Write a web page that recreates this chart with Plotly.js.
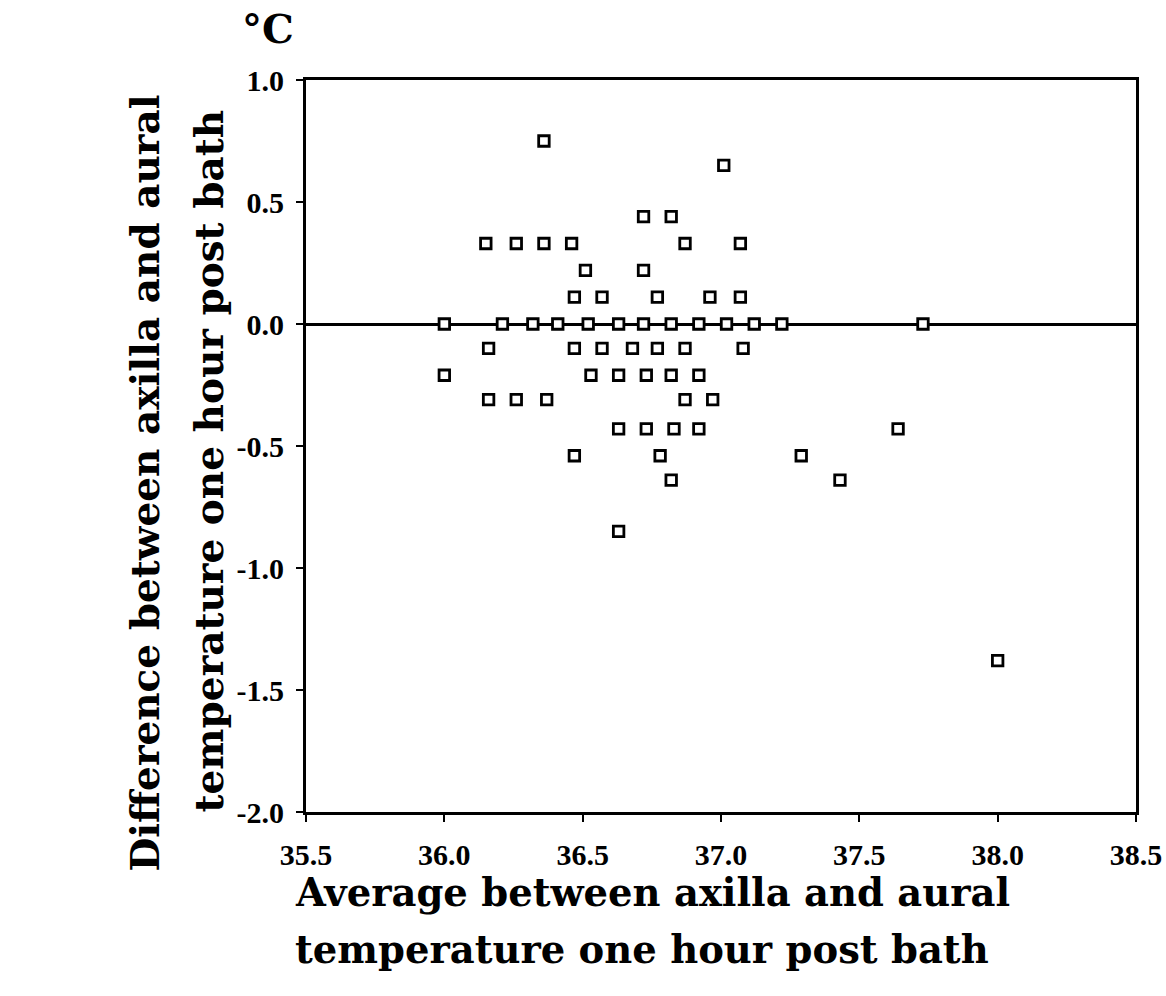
<!DOCTYPE html>
<html>
<head>
<meta charset="utf-8">
<script src="https://cdn.plot.ly/plotly-3.0.1.min.js"></script>
<style>html,body{margin:0;padding:0;background:#fff;}#chart{width:1166px;height:996px;}</style>
</head>
<body>
<div id="chart"></div>
<script>
// Average between axilla and aural temperature (°C)
const avgTemp = [
  36.36,
  37.01,
  36.72, 36.82,
  36.15, 36.26, 36.36, 36.46, 36.87, 37.07,
  36.51, 36.72,
  36.47, 36.57, 36.77, 36.96, 37.07,
  36.00, 36.21, 36.32, 36.41, 36.52, 36.63, 36.72, 36.82, 36.92, 37.02, 37.12, 37.22, 37.73,
  36.16, 36.47, 36.57, 36.68, 36.77, 36.87, 37.08,
  36.00, 36.53, 36.63, 36.73, 36.82, 36.92,
  36.16, 36.26, 36.37, 36.87, 36.97,
  36.63, 36.73, 36.83, 36.92, 37.64,
  36.47, 36.78, 37.29,
  36.82, 37.43,
  36.63,
  38.00
];
// Difference between axilla and aural temperature (°C)
const diffTemp = [
  0.75,
  0.65,
  0.44, 0.44,
  0.33, 0.33, 0.33, 0.33, 0.33, 0.33,
  0.22, 0.22,
  0.11, 0.11, 0.11, 0.11, 0.11,
  0, 0, 0, 0, 0, 0, 0, 0, 0, 0, 0, 0, 0,
  -0.10, -0.10, -0.10, -0.10, -0.10, -0.10, -0.10,
  -0.21, -0.21, -0.21, -0.21, -0.21, -0.21,
  -0.31, -0.31, -0.31, -0.31, -0.31,
  -0.43, -0.43, -0.43, -0.43, -0.43,
  -0.54, -0.54, -0.54,
  -0.64, -0.64,
  -0.85,
  -1.38
];
const xTickVals = [35.5, 36.0, 36.5, 37.0, 37.5, 38.0, 38.5];
const xTickText = ["35.5", "36.0", "36.5", "37.0", "37.5", "38.0", "38.5"];
const yTickVals = [1.0, 0.5, 0.0, -0.5, -1.0, -1.5, -2.0];
const yTickText = ["1.0", "0.5", "0.0", "-0.5", "-1.0", "-1.5", "-2.0"];
const unitLabel = "°C";
const xTitleLines = ["Average between axilla and aural", "temperature one hour post bath"];
const yTitleLines = ["Difference between axilla and aural", "temperature one hour post bath"];

const xTitleFont = {family: "DejaVu Serif", size: 38.5, color: "#000", weight: "bold"};
const yTitleFont = {family: "DejaVu Serif", size: 39, color: "#000", weight: "bold"};

const trace = {
  type: "scatter",
  mode: "markers",
  x: avgTemp,
  y: diffTemp,
  marker: {symbol: "square", size: 10.5, color: "#fff", line: {color: "#000", width: 2.8}},
  hoverinfo: "x+y"
};

const layout = {
  width: 1166,
  height: 996,
  paper_bgcolor: "#fff",
  plot_bgcolor: "#fff",
  showlegend: false,
  margin: {l: 306, r: 30, t: 80, b: 184},
  xaxis: {
    range: [35.5, 38.5],
    tickvals: xTickVals,
    ticktext: xTickText,
    ticks: "outside",
    ticklen: 7,
    tickwidth: 2,
    tickcolor: "#000",
    ticklabelstandoff: 7,
    ticklabeloverflow: "allow",
    showgrid: false,
    zeroline: false,
    showline: true,
    linecolor: "#000",
    linewidth: 3,
    mirror: true,
    tickfont: {family: "Liberation Serif", size: 30, color: "#000", weight: "bold"}
  },
  yaxis: {
    range: [-2.0, 1.0],
    tickvals: yTickVals,
    ticktext: yTickText,
    ticks: "outside",
    ticklen: 7,
    tickwidth: 2,
    tickcolor: "#000",
    ticklabelstandoff: 6,
    showgrid: false,
    zeroline: true,
    zerolinecolor: "#000",
    zerolinewidth: 3,
    showline: true,
    linecolor: "#000",
    linewidth: 3,
    mirror: true,
    tickfont: {family: "Liberation Serif", size: 30, color: "#000", weight: "bold"}
  },
  annotations: [
    {text: unitLabel, xref: "paper", yref: "paper", x: -0.046, y: 1.070, xanchor: "center", yanchor: "middle",
     showarrow: false, font: {family: "DejaVu Serif", size: 40, color: "#000", weight: "bold"}},
    {text: xTitleLines[0], xref: "paper", yref: "paper", x: -0.016, y: -0.076, xanchor: "left", yanchor: "top",
     showarrow: false, font: xTitleFont},
    {text: xTitleLines[1], xref: "paper", yref: "paper", x: -0.016, y: -0.154, xanchor: "left", yanchor: "top",
     showarrow: false, font: xTitleFont},
    {text: yTitleLines[0], xref: "paper", yref: "paper", x: -0.194, y: 0.450, xanchor: "center", yanchor: "middle",
     textangle: -90, showarrow: false, font: yTitleFont},
    {text: yTitleLines[1], xref: "paper", yref: "paper", x: -0.117, y: 0.480, xanchor: "center", yanchor: "middle",
     textangle: -90, showarrow: false, font: yTitleFont}
  ]
};

Plotly.newPlot("chart", [trace], layout, {displayModeBar: false, staticPlot: true});
</script>
</body>
</html>
